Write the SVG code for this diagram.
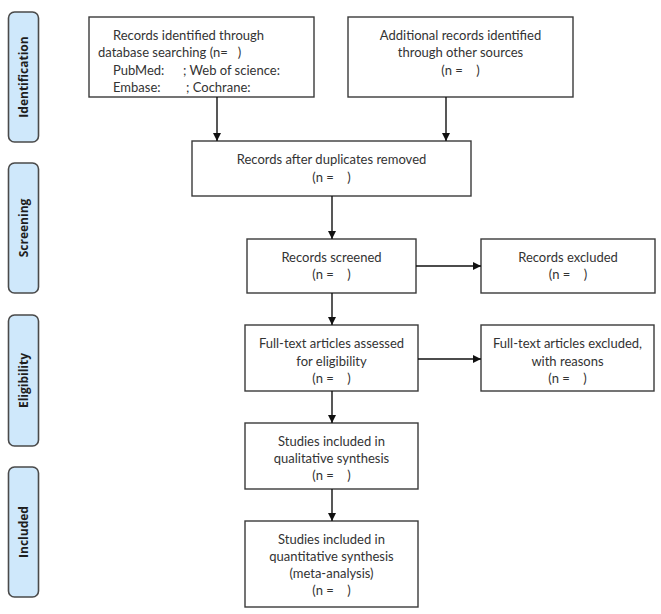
<svg xmlns="http://www.w3.org/2000/svg" width="661" height="614" viewBox="0 0 661 614">
<defs>
<style>
.box{fill:#ffffff;stroke:#3a3a3a;stroke-width:1.4}
.pill{fill:#cfe8fb;stroke:#4a4a4a;stroke-width:1.6}
.t{font-family:Lato,"Liberation Sans",sans-serif;font-size:13px;fill:#333;text-anchor:middle;white-space:pre}
.tl{font-family:Lato,"Liberation Sans",sans-serif;font-size:13px;fill:#333;text-anchor:start;white-space:pre}
.lab{font-family:"Open Sans","Liberation Sans",sans-serif;font-size:12px;font-weight:bold;fill:#1e1e1e;text-anchor:middle}
.ln{stroke:#111;stroke-width:1.4;fill:none}
</style>
<marker id="ah" viewBox="0 0 10 10" refX="10" refY="5" markerWidth="8" markerHeight="8" markerUnits="userSpaceOnUse" orient="auto">
<path d="M0,0 L10,5 L0,10 Z" fill="#111"/>
</marker>
</defs>

<g id="stage-identification">
<rect class="pill" x="8.5" y="12" width="30" height="130" rx="6"/>
<text class="lab" transform="translate(27.5,77) rotate(-90)">Identification</text>
</g>
<g id="stage-screening">
<rect class="pill" x="8.5" y="163" width="30" height="130" rx="6"/>
<text class="lab" transform="translate(27.5,228) rotate(-90)">Screening</text>
</g>
<g id="stage-eligibility">
<rect class="pill" x="8.5" y="315" width="30" height="131" rx="6"/>
<text class="lab" transform="translate(27.5,380.5) rotate(-90)">Eligibility</text>
</g>
<g id="stage-included">
<rect class="pill" x="8.5" y="467" width="30" height="130" rx="6"/>
<text class="lab" transform="translate(27.5,532) rotate(-90)">Included</text>
</g>

<g id="db-search">
<rect class="box" x="89" y="17" width="225" height="80"/>
<text class="tl" x="113" y="40">Records identified through</text>
<text class="tl" x="98" y="57">database searching (n=&#160;&#160;&#160;)</text>
<text class="tl" y="74.5"><tspan x="113">PubMed:</tspan><tspan x="183">; Web of science:</tspan></text>
<text class="tl" y="92"><tspan x="113">Embase:</tspan><tspan x="186">; Cochrane:</tspan></text>
</g>

<g id="other-sources">
<rect class="box" x="348" y="17" width="225" height="80"/>
<text class="t" x="460.5" y="40">Additional records identified</text>
<text class="t" x="460.5" y="57">through other sources</text>
<text class="t" x="460.5" y="74.5">(n =&#160;&#160;&#160;&#160;)</text>
</g>

<g id="dedup">
<rect class="box" x="192" y="141" width="279" height="55"/>
<text class="t" x="331.5" y="164">Records after duplicates removed</text>
<text class="t" x="331.5" y="181.5">(n =&#160;&#160;&#160;&#160;)</text>
</g>

<g id="screened">
<rect class="box" x="247" y="239" width="169" height="54"/>
<text class="t" x="331.5" y="262">Records screened</text>
<text class="t" x="331.5" y="279">(n =&#160;&#160;&#160;&#160;)</text>
</g>

<g id="excluded">
<rect class="box" x="481" y="239" width="174" height="54"/>
<text class="t" x="568" y="262">Records excluded</text>
<text class="t" x="568" y="279">(n =&#160;&#160;&#160;&#160;)</text>
</g>

<g id="fulltext">
<rect class="box" x="245" y="325" width="173" height="66"/>
<text class="t" x="331.5" y="348">Full-text articles assessed</text>
<text class="t" x="331.5" y="365.5">for eligibility</text>
<text class="t" x="331.5" y="383">(n =&#160;&#160;&#160;&#160;)</text>
</g>

<g id="fulltext-excluded">
<rect class="box" x="481" y="325" width="173" height="66"/>
<text class="t" x="567.5" y="348">Full-text articles excluded,</text>
<text class="t" x="567.5" y="365.5">with reasons</text>
<text class="t" x="567.5" y="383">(n =&#160;&#160;&#160;&#160;)</text>
</g>

<g id="qualitative">
<rect class="box" x="245" y="423" width="173" height="66"/>
<text class="t" x="331.5" y="446">Studies included in</text>
<text class="t" x="331.5" y="463">qualitative synthesis</text>
<text class="t" x="331.5" y="480">(n =&#160;&#160;&#160;&#160;)</text>
</g>

<g id="quantitative">
<rect class="box" x="245" y="521" width="173" height="86"/>
<text class="t" x="331.5" y="544">Studies included in</text>
<text class="t" x="331.5" y="561">quantitative synthesis</text>
<text class="t" x="331.5" y="578">(meta-analysis)</text>
<text class="t" x="331.5" y="595">(n =&#160;&#160;&#160;&#160;)</text>
</g>

<g id="connectors">
<line class="ln" x1="217" y1="97" x2="217" y2="141" marker-end="url(#ah)"/>
<line class="ln" x1="446" y1="97" x2="446" y2="141" marker-end="url(#ah)"/>
<line class="ln" x1="332" y1="196" x2="332" y2="239" marker-end="url(#ah)"/>
<line class="ln" x1="416" y1="266" x2="481" y2="266" marker-end="url(#ah)"/>
<line class="ln" x1="332" y1="293" x2="332" y2="325" marker-end="url(#ah)"/>
<line class="ln" x1="418" y1="359" x2="481" y2="359" marker-end="url(#ah)"/>
<line class="ln" x1="332" y1="391" x2="332" y2="423" marker-end="url(#ah)"/>
<line class="ln" x1="332" y1="489" x2="332" y2="521" marker-end="url(#ah)"/>
</g>
</svg>
